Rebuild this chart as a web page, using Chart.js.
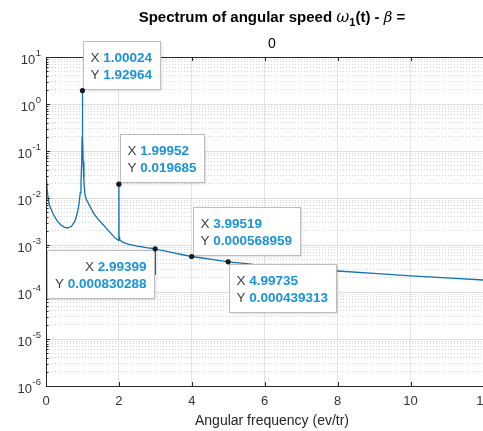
<!DOCTYPE html>
<html>
<head>
<meta charset="utf-8">
<script src="https://cdn.jsdelivr.net/npm/chart.js@4/dist/chart.umd.min.js"></script>
<style>
  html, body { margin: 0; padding: 0; background: #fff; overflow: hidden; }
  canvas { display: block; }
</style>
</head>
<body>
<canvas id="c" width="520" height="431"></canvas>
<script>
// ---- data ----
const freq = [0, 0.003, 0.008, 0.015, 0.03, 0.06, 0.1, 0.2, 0.3, 0.4, 0.5, 0.6, 0.7, 0.8, 0.85, 0.9, 0.94, 0.96, 0.98, 0.99, 0.995,
  1.00024, 1.005, 1.01, 1.02, 1.04, 1.07, 1.1, 1.2, 1.3, 1.42, 1.55, 1.67, 1.8, 1.9, 1.99,
  1.99952, 2.004, 2.02, 2.1, 2.25, 2.5, 2.75, 2.99399, 2.999, 3.004, 3.25, 3.5, 3.75, 3.99519,
  4.5, 4.99735, 5.5, 6, 6.5, 7, 7.5, 8, 9, 10, 11, 12, 12.4];
const amplitude = [3.5, 0.3, 0.06, 0.03, 0.016, 0.0095, 0.0068, 0.0045, 0.0033, 0.0027, 0.0024, 0.0023, 0.0025, 0.0033, 0.0045, 0.007, 0.013, 0.022, 0.06, 0.2, 0.6,
  1.92964, 0.6, 0.2, 0.06, 0.022, 0.012, 0.0095, 0.0068, 0.0048, 0.0036, 0.0028, 0.0022, 0.0017, 0.0014, 0.00125,
  0.019685, 0.0015, 0.0013, 0.00115, 0.00104, 0.00095, 0.00088, 0.000830288, 0.00023, 0.00081, 0.00075, 0.00068, 0.00062, 0.000568959,
  0.0005, 0.000439313, 0.0004, 0.00036, 0.00033, 0.00031, 0.00029, 0.00028, 0.00025, 0.00022, 0.0002, 0.00018, 0.000175];

const tipX = [1.00024, 1.99952, 2.99399, 3.99519, 4.99735];
const tipY = [1.92964, 0.019685, 0.000830288, 0.000568959, 0.000439313];
const tipXText = ['1.00024', '1.99952', '2.99399', '3.99519', '4.99735'];
const tipYText = ['1.92964', '0.019685', '0.000830288', '0.000568959', '0.000439313'];
const tipAnchor = ['bl', 'bl', 'tr', 'bl', 'tl'];

const xTicks = [0, 2, 4, 6, 8, 10, 12];
const yExponents = [1, 0, -1, -2, -3, -4, -5, -6];

const titleLine2 = '0';
const xTitle = 'Angular frequency (ev/tr)';

// ---- helpers ----
const FONT = '"Liberation Sans", Arial, sans-serif';
const AXIS = '#262626';
const majorVals = yExponents.map(e => Math.pow(10, e));
const minorVals = [];
for (let e = -6; e < 1; e++) for (let m = 2; m <= 9; m++) minorVals.push(m * Math.pow(10, e));

const lineData = freq.map((f, i) => ({ x: f, y: amplitude[i] }));

const decorPlugin = {
  id: 'decor',
  afterDraw(chart) {
    const ctx = chart.ctx;
    const a = chart.chartArea;
    const xs = chart.scales.x, ys = chart.scales.y;
    ctx.save();
    // box
    ctx.strokeStyle = AXIS;
    ctx.lineWidth = 1;
    ctx.strokeRect(a.left + 0.5, a.top + 0.5, a.right - a.left - 1, a.bottom - a.top);
    // inward ticks
    ctx.beginPath();
    xTicks.forEach(v => {
      const px = Math.round(xs.getPixelForValue(v)) + 0.5;
      ctx.moveTo(px, a.bottom); ctx.lineTo(px, a.bottom - 4);
      ctx.moveTo(px, a.top); ctx.lineTo(px, a.top + 4);
    });
    majorVals.forEach(v => {
      const py = Math.round(ys.getPixelForValue(v)) + 0.5;
      ctx.moveTo(a.left, py); ctx.lineTo(a.left + 4, py);
    });
    minorVals.forEach(v => {
      const py = Math.round(ys.getPixelForValue(v)) + 0.5;
      ctx.moveTo(a.left, py); ctx.lineTo(a.left + 2.5, py);
    });
    ctx.stroke();

    // y labels with superscripts
    ctx.fillStyle = '#333';
    yExponents.forEach(e => {
      const py = ys.getPixelForValue(Math.pow(10, e));
      const expStr = String(e);
      ctx.font = '9.5px ' + FONT;
      const ew = ctx.measureText(expStr).width;
      const right = a.left - 5;
      ctx.textAlign = 'left';
      ctx.textBaseline = 'alphabetic';
      ctx.fillText(expStr, right - ew, py - 1);
      ctx.font = '13px ' + FONT;
      ctx.textAlign = 'right';
      ctx.fillText('10', right - ew - 0.5, py + 7);
    });

    // title
    const cx = (a.left + a.right) / 2;
    const pieces = [
      { t: 'Spectrum of angular speed ', f: 'bold 15px ' + FONT, dy: 0 },
      { t: 'ω', f: 'italic 16px "DejaVu Serif", serif', dy: 0 },
      { t: '1', f: 'bold 11px ' + FONT, dy: 4 },
      { t: '(t) - ', f: 'bold 15px ' + FONT, dy: 0 },
      { t: 'β', f: 'italic 15px "DejaVu Serif", serif', dy: 0 },
      { t: ' =', f: 'bold 15px ' + FONT, dy: 0 }
    ];
    let total = 0;
    pieces.forEach(p => { ctx.font = p.f; p.w = ctx.measureText(p.t).width; total += p.w; });
    let x0 = cx - total / 2;
    ctx.fillStyle = '#000';
    ctx.textAlign = 'left';
    ctx.textBaseline = 'alphabetic';
    pieces.forEach(p => { ctx.font = p.f; ctx.fillText(p.t, x0, 22 + p.dy); x0 += p.w; });
    ctx.font = '14px ' + FONT;
    ctx.textAlign = 'center';
    ctx.fillStyle = '#000';
    ctx.fillText(titleLine2, cx, 48);

    // data tips
    const TF = 13.5;
    tipX.forEach((v, i) => {
      const px = xs.getPixelForValue(v);
      const py = ys.getPixelForValue(tipY[i]);
      ctx.font = TF + 'px ' + FONT;
      const lw = ctx.measureText('X ').width;
      ctx.font = 'bold ' + TF + 'px ' + FONT;
      const w1 = ctx.measureText(tipXText[i]).width;
      const w2 = ctx.measureText(tipYText[i]).width;
      const tw = lw + Math.max(w1, w2);
      const bw = Math.round(tw + 15), bh = 48;
      let bx, by;
      const an = tipAnchor[i];
      if (an === 'bl') { bx = px + 1; by = py - 2 - bh; }
      else if (an === 'tl') { bx = px + 1; by = py + 2; }
      else { bx = px - 1 - bw; by = py + 1; }
      bx = Math.round(bx) + 0.5; by = Math.round(by) + 0.5;
      ctx.save();
      ctx.shadowColor = 'rgba(0,0,0,0.18)';
      ctx.shadowBlur = 3;
      ctx.shadowOffsetX = 1;
      ctx.shadowOffsetY = 1;
      ctx.fillStyle = '#fff';
      ctx.fillRect(bx, by, bw, bh);
      ctx.restore();
      ctx.strokeStyle = '#bdbdbd';
      ctx.lineWidth = 1;
      ctx.strokeRect(bx, by, bw, bh);
      const lines = [['X ', tipXText[i], w1], ['Y ', tipYText[i], w2]];
      lines.forEach((ln, k) => {
        const ty = by + 16.5 + k * 17;
        let tx;
        if (an === 'tr') tx = bx + bw - 8 - lw - ln[2];
        else tx = bx + 7;
        ctx.textBaseline = 'middle';
        ctx.textAlign = 'left';
        ctx.font = TF + 'px ' + FONT;
        ctx.fillStyle = '#404040';
        ctx.fillText(ln[0], tx, ty);
        ctx.font = 'bold ' + TF + 'px ' + FONT;
        ctx.fillStyle = '#1a93da';
        ctx.fillText(ln[1], tx + lw, ty);
      });
      ctx.beginPath();
      ctx.arc(px, py, 2.6, 0, Math.PI * 2);
      ctx.fillStyle = '#1a1a1a';
      ctx.fill();
    });
    ctx.restore();
  }
};

new Chart(document.getElementById('c'), {
  type: 'line',
  data: {
    datasets: [
      {
        data: lineData,
        borderColor: '#0f72b5',
        borderWidth: 1.3,
        pointRadius: 0,
        tension: 0,
        fill: false
      }
    ]
  },
  options: {
    responsive: false,
    animation: false,
    devicePixelRatio: 1,
    layout: { padding: { top: 57, right: 22, left: 0, bottom: 0 } },
    plugins: { legend: { display: false }, tooltip: { enabled: false }, title: { display: false } },
    scales: {
      x: {
        type: 'linear',
        min: 0,
        max: 12.4,
        afterBuildTicks: s => { s.ticks = xTicks.map(v => ({ value: v })); },
        afterFit: s => { s.height = 45; },
        ticks: { font: { family: FONT, size: 13 }, color: '#333', padding: 8, maxRotation: 0, autoSkip: false },
        grid: { color: '#e3e3e3', drawTicks: false },
        border: { display: false },
        title: { display: true, text: xTitle, color: '#262626', font: { family: FONT, size: 14 }, padding: { top: 0, bottom: 1 } }
      },
      y: {
        type: 'logarithmic',
        min: 1e-6,
        max: 10,
        position: 'left',
        afterBuildTicks: s => { s.ticks = majorVals.map(v => ({ value: v })); },
        afterFit: s => { s.width = 46; },
        ticks: { display: false },
        grid: { color: '#dedede', drawTicks: false },
        border: { display: false }
      },
      yMinor: {
        type: 'logarithmic',
        min: 1e-6,
        max: 10,
        position: 'left',
        afterBuildTicks: s => { s.ticks = minorVals.map(v => ({ value: v })); },
        afterFit: s => { s.width = 0; },
        ticks: { display: false },
        grid: { color: '#d4d4d4', drawTicks: false },
        border: { display: false, dash: [1, 2] }
      }
    }
  },
  plugins: [decorPlugin]
});
</script>
</body>
</html>
